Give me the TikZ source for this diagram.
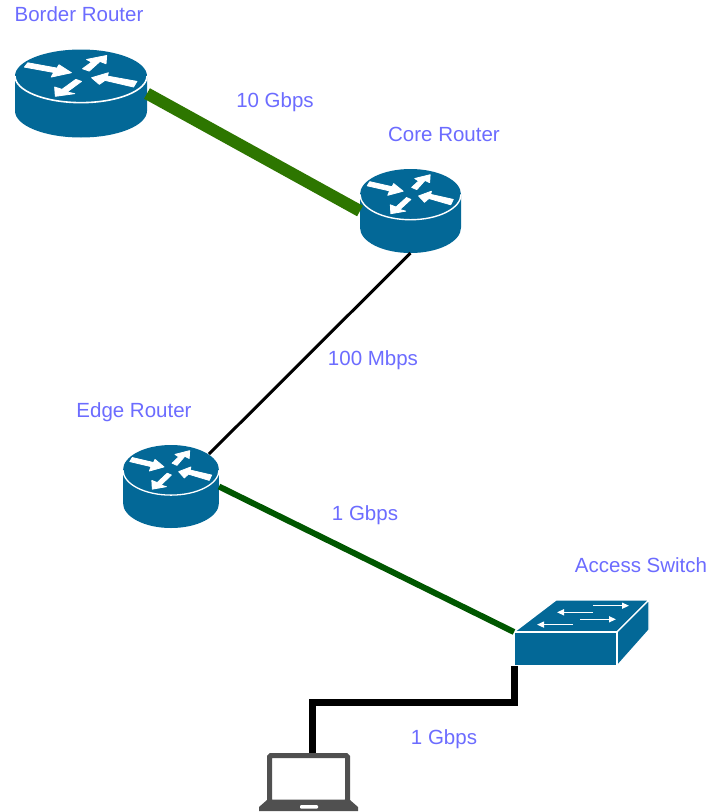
\documentclass[tikz,border=0pt]{standalone}
\usepackage{fontspec}
\setmainfont{Liberation Sans}
\usetikzlibrary{shapes.geometric,arrows.meta,calc}
\definecolor{iconblue}{HTML}{036897}
\definecolor{labelblue}{HTML}{6C6CFF}
\definecolor{linkgreen}{HTML}{2D7600}
\definecolor{linkdark}{HTML}{005700}
\definecolor{laptopgrey}{HTML}{505050}
\tikzset{
  routerbox/.style={ellipse,inner sep=0pt,outer sep=0pt},
  boxnode/.style={rectangle,inner sep=0pt,outer sep=0pt},
  lbl/.style={text=labelblue,font=\fontsize{20.5}{23}\selectfont,inner sep=0pt,anchor=base},
  swarrow/.style={white,line width=1.3pt,-{Triangle[length=7pt,width=6pt]}},
  rtarrow/.style={fill=white,draw=white,line width=0.8pt,line join=round},
}
\newcommand{\routericon}[5]{%
  \begin{scope}[shift={(#1,#2)},xscale=#3/393,yscale=#4/265]
    \fill[iconblue] (0,80) .. controls (0,35.8) and (88,0) .. (196.5,0)
      .. controls (305,0) and (393,35.8) .. (393,80) -- (393,185)
      .. controls (393,229.2) and (305,265) .. (196.5,265)
      .. controls (88,265) and (0,229.2) .. (0,185) -- cycle;
    \draw[white,line width=#5] (0,80) .. controls (0,124.2) and (88,160) .. (196.5,160)
      .. controls (305,160) and (393,124.2) .. (393,80);
    \path[rtarrow] (38,40) -- (28,53) -- (115,69) -- (108,83) -- (168,70) -- (131,46) -- (125,56) -- cycle;
    \path[rtarrow] (201,58) -- (228,38) -- (213,30) -- (273,18) -- (271,43) -- (253,36) -- (221,65) -- cycle;
    \path[rtarrow] (228,85) -- (278,70) -- (275,80) -- (363,96) -- (353,113) -- (268,93) -- (251,105) -- cycle;
    \path[rtarrow] (181,90) -- (198,96) -- (155,128) -- (178,133) -- (120,141) -- (118,113) -- (140,120) -- cycle;
  \end{scope}}
\begin{document}
\begin{tikzpicture}[x=1pt,y=-1pt]
\useasboundingbox (0,0) rectangle (722,812);
\fill[white] (0,0) rectangle (722,812);
% named frames of the icons
\node[routerbox,minimum width=132pt,minimum height=88pt] (border) at (81,93.5) {};
\node[routerbox,minimum width=101pt,minimum height=84pt] (core) at (410.5,211) {};
\node[routerbox,minimum width=96pt,minimum height=83pt] (edgeR) at (171,486.5) {};
\node[boxnode,minimum width=103pt,minimum height=34pt] (switch) at (565.5,649) {};
\node[boxnode,minimum width=83pt,minimum height=58pt] (laptop) at (308.5,782) {};
\coordinate (laptopport) at ($(laptop.north)+(3.5,0)$);
% icons
\routericon{15}{49.5}{132}{88}{1.6pt}
\routericon{360}{169}{101}{84}{1.4pt}
\routericon{123}{445}{96}{83}{1.3pt}
% switch
\filldraw[iconblue,draw=white,line width=1.3pt,line join=round] (514,632) -- (556,600) -- (649,600) -- (617,632) -- cycle;
\filldraw[iconblue,draw=white,line width=1.3pt,line join=round] (617,632) -- (649,600) -- (649,630) -- (617,666) -- cycle;
\filldraw[iconblue,draw=white,line width=1.3pt] (514,632) rectangle (617,666);
\draw[swarrow] (593,605.7) -- (629,605.7);
\draw[swarrow] (593,612.3) -- (557,612.3);
\draw[swarrow] (580,619.3) -- (616,619.3);
\draw[swarrow] (573,624.6) -- (537,624.6);
% laptop
\draw[laptopgrey,line width=5pt,rounded corners=1.5pt] (269.5,755.5) rectangle (347.5,802);
\fill[laptopgrey] (267,800) -- (350,800) -- (358,807) -- (358,811) -- (259,811) -- (259,807) -- cycle;
\fill[white,rounded corners=1pt] (300,805) rectangle (318,808.5);
% links
\draw[linkgreen,line width=12pt] (border.east) -- (core.west);
\draw[black,line width=3pt,shorten >=5pt] (core.south) -- (edgeR.40);
\draw[linkdark,line width=6pt] (edgeR.east) -- (switch.north west);
\draw[black,line width=7pt,line join=miter] (switch.south west) -- ++(0,36) -| (laptopport);
% labels
\node[lbl] (lb1) at (79,21) {Border Router};
\node[lbl] (lb2) at (275,107) {10 Gbps};
\node[lbl] (lb3) at (444,141) {Core Router};
\node[lbl] (lb4) at (373,365) {100 Mbps};
\node[lbl] (lb5) at (134,417) {Edge Router};
\node[lbl] (lb6) at (365,520) {1 Gbps};
\node[lbl] (lb7) at (641,572) {Access Switch};
\node[lbl] (lb8) at (444,744) {1 Gbps};
\end{tikzpicture}
\end{document}
